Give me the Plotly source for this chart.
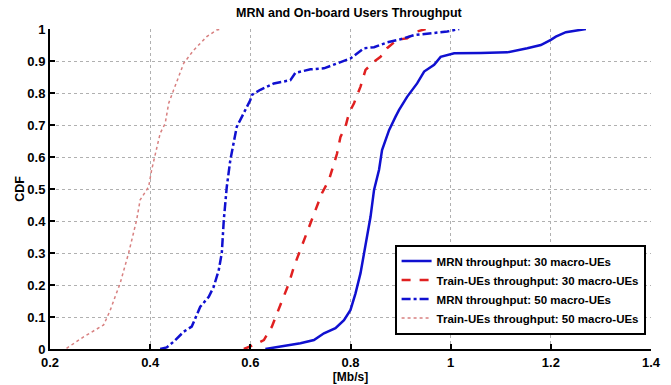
import plotly.graph_objects as go

# MRN throughput: 30 macro-UEs (solid blue)
mrn30_x = [0.63, 0.667, 0.70, 0.727, 0.747, 0.77, 0.787, 0.80, 0.81, 0.82, 0.827, 0.833, 0.84, 0.847,
           0.857, 0.863, 0.877, 0.89, 0.897, 0.913, 0.933, 0.947, 0.967, 0.98, 1.0, 1.007, 1.06, 1.113,
           1.153, 1.18, 1.20, 1.21, 1.23, 1.27]
mrn30_y = [0.0, 0.009, 0.018, 0.028, 0.049, 0.065, 0.09, 0.122, 0.174, 0.237, 0.30, 0.36, 0.413, 0.497,
           0.56, 0.622, 0.684, 0.726, 0.747, 0.788, 0.83, 0.867, 0.888, 0.913, 0.921, 0.924, 0.925, 0.927,
           0.94, 0.95, 0.966, 0.976, 0.99, 1.0]

# Train-UEs throughput: 30 macro-UEs (dashed red)
train30_x = [0.587, 0.607, 0.627, 0.643, 0.653, 0.667, 0.677, 0.687, 0.70, 0.713, 0.723, 0.733, 0.743,
             0.757, 0.767, 0.773, 0.78, 0.79, 0.797, 0.807, 0.82, 0.83, 0.847, 0.86, 0.873, 0.893, 0.913,
             0.933, 0.95]
train30_y = [0.0, 0.0125, 0.028, 0.07, 0.11, 0.163, 0.205, 0.257, 0.31, 0.36, 0.403, 0.445, 0.487,
             0.528, 0.58, 0.61, 0.663, 0.695, 0.737, 0.768, 0.82, 0.872, 0.898, 0.913, 0.94, 0.966, 0.971,
             0.992, 1.0]

# MRN throughput: 50 macro-UEs (dash-dot blue)
mrn50_x = [0.42, 0.433, 0.447, 0.467, 0.483, 0.493, 0.50, 0.517, 0.527, 0.537, 0.543, 0.547, 0.553,
           0.56, 0.567, 0.573, 0.58, 0.59, 0.60, 0.603, 0.62, 0.647, 0.68, 0.69, 0.72, 0.747, 0.773, 0.80,
           0.827, 0.847, 0.873, 0.90, 0.927, 0.96, 0.993, 1.017]
mrn50_y = [0.0, 0.005, 0.023, 0.054, 0.07, 0.11, 0.132, 0.163, 0.195, 0.247, 0.30, 0.403, 0.507,
           0.59, 0.653, 0.695, 0.716, 0.747, 0.778, 0.794, 0.81, 0.83, 0.84, 0.863, 0.874, 0.877, 0.893,
           0.908, 0.94, 0.943, 0.958, 0.968, 0.981, 0.987, 0.992, 1.0]

# Train-UEs throughput: 50 macro-UEs (dotted light red)
train50_x = [0.233, 0.267, 0.307, 0.32, 0.33, 0.34, 0.357, 0.373, 0.38, 0.397, 0.403, 0.41, 0.42, 0.43,
             0.437, 0.447, 0.467, 0.487, 0.513, 0.533, 0.543]
train50_y = [0.002, 0.038, 0.075, 0.12, 0.163, 0.205, 0.30, 0.403, 0.466, 0.507, 0.56, 0.61, 0.674,
             0.705, 0.768, 0.81, 0.893, 0.934, 0.976, 0.997, 1.0]

x_ticks = [0.2, 0.4, 0.6, 0.8, 1.0, 1.2, 1.4]
x_tick_labels = ["0.2", "0.4", "0.6", "0.8", "1", "1.2", "1.4"]
y_ticks = [0, 0.1, 0.2, 0.3, 0.4, 0.5, 0.6, 0.7, 0.8, 0.9, 1.0]
y_tick_labels = ["0", "0.1", "0.2", "0.3", "0.4", "0.5", "0.6", "0.7", "0.8", "0.9", "1"]

FONT = "Liberation Sans, Arial, sans-serif"

fig = go.Figure()
fig.add_trace(go.Scatter(x=mrn30_x, y=mrn30_y, mode="lines",
                         name="<b>MRN throughput: 30 macro-UEs</b>",
                         line=dict(color="#1010d0", width=2.5, dash="solid")))
fig.add_trace(go.Scatter(x=train30_x, y=train30_y, mode="lines",
                         name="<b>Train-UEs throughput: 30 macro-UEs</b>",
                         line=dict(color="#e02020", width=2.5, dash="dash")))
fig.add_trace(go.Scatter(x=mrn50_x, y=mrn50_y, mode="lines",
                         name="<b>MRN throughput: 50 macro-UEs</b>",
                         line=dict(color="#1010d0", width=2.5, dash="dashdot")))
fig.add_trace(go.Scatter(x=train50_x, y=train50_y, mode="lines",
                         name="<b>Train-UEs throughput: 50 macro-UEs</b>",
                         line=dict(color="#d88080", width=1.5, dash="dot")))

fig.update_layout(
    width=671, height=385,
    margin=dict(l=50, r=20, t=29, b=36),
    paper_bgcolor="white", plot_bgcolor="white",
    font=dict(family=FONT, size=12, color="black"),
    title=dict(text="<b>MRN and On-board Users Throughput</b>", x=0.52, xanchor="center",
               y=0.967, yanchor="middle", font=dict(size=12.5, family=FONT)),
    showlegend=True,
    legend=dict(x=0.991, xanchor="right", y=0.045, yanchor="bottom",
                bgcolor="white", bordercolor="black", borderwidth=2,
                font=dict(size=11.5, family=FONT), tracegroupgap=0,
                itemwidth=30),
)
fig.update_xaxes(range=[0.2, 1.4], tickvals=x_ticks, ticktext=["<b>%s</b>" % t for t in x_tick_labels],
                 showgrid=True, gridcolor="#b0b0b0", griddash="dot", gridwidth=1,
                 showline=True, linecolor="black", linewidth=2, ticks="inside", ticklen=5,
                 tickcolor="black", tickwidth=2, zeroline=False, ticklabelstandoff=0,
                 automargin=False,
                 title=dict(text="<b>[Mb/s]</b>", standoff=4, font=dict(size=12)),
                 tickfont=dict(size=13))
fig.update_yaxes(range=[0, 1], tickvals=y_ticks, ticktext=["<b>%s</b>" % t for t in y_tick_labels],
                 showgrid=True, gridcolor="#b0b0b0", griddash="dot", gridwidth=1,
                 showline=True, linecolor="black", linewidth=2, ticks="inside", ticklen=5,
                 tickcolor="black", tickwidth=2, zeroline=False, automargin=False,
                 title=dict(text="<b>CDF</b>", standoff=0, font=dict(size=12.5)),
                 tickfont=dict(size=13))

fig.write_html("out.html")
